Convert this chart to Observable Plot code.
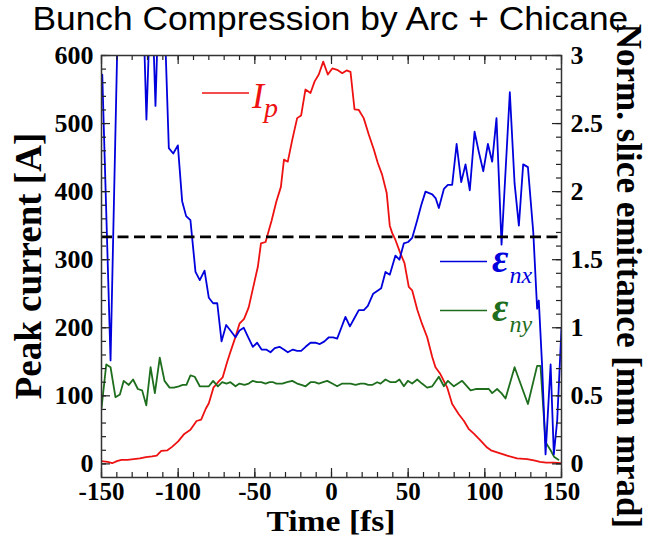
<!DOCTYPE html>
<html><head><meta charset="utf-8">
<script src="https://cdn.jsdelivr.net/npm/d3@7"></script>
<script src="https://cdn.jsdelivr.net/npm/@observablehq/plot@0.6"></script>
<style>
body{margin:0;background:#fff;}
#title{height:40px;width:655px;text-align:center;font-family:"Liberation Sans",Arial,sans-serif;font-size:33px;line-height:37px;overflow:visible;white-space:nowrap;}
#title span{display:inline-block;transform:translateX(3px) scaleX(1.07);transform-origin:center;}
#chart svg{display:block;overflow:visible;}
</style></head><body>
<div id="title"><span>Bunch Compression by Arc + Chicane</span></div>
<div id="chart"></div>
<script>
// ---- data ----
const ipTime = [-150,-146,-143,-140,-137,-133,-129,-125,-121,-117,-114,-111,-107,-104,-100,-96,-92,-88,-85,-82,-80,-77,-74,-71,-68,-66,-63,-60,-57,-54,-51,-48,-46,-43,-39,-36,-33,-31,-28.5,-25.6,-22.4,-19.8,-17,-13.7,-11,-8.3,-5.4,-2.4,0.5,3.7,7,9.8,12.4,15,17.8,21,24.3,27.6,30.2,33,36,38,39.6,41.7,45,47.6,50.4,52.6,56,59,62.4,65.7,67.8,71,75.5,78.7,83,86.4,89.6,93,96.5,101.5,104,108,114.6,121,127.6,132,136,140,145,150];
const ipValue = [4,3,1,4,6,6,7,8,10,11,12,19,20,25,33,44,50,63,65,81,89,112,120,127,150,164,184,206,213,230,260,290,324,326,358,385,407,447,444,476,508,512,550,545,562,572,591,572,581,579,574,578,576,521,520,508,484,462,442,425,398,350,339,329,309,295,260,255,226,206,186,157,142,132,112,88,73,63,51,44,36,24,20,17,12,8,7,5,3,2,2,1];

const enxTime = [-149.5,-144.1,-138.7,-134,-129,-124,-122.4,-120.7,-117.5,-114.8,-112.5,-110,-108.5,-106.1,-103.2,-100.2,-97.4,-94.8,-92,-88.7,-85.9,-82.8,-80,-77.2,-74.5,-71.7,-68.7,-65.9,-62.6,-60,-57.2,-54.3,-51.3,-48.5,-45.6,-42.6,-39.8,-37,-33.9,-31.1,-28.5,-25.2,-22.4,-19.8,-16.9,-13.7,-10.6,-7.6,-4.6,-1.7,1,3.7,6.4,9.1,12,14.9,17.8,21.1,23.7,27.2,29.8,32.4,35.2,38,41.7,44.3,47.2,50,52.6,55.9,58.5,61.3,65.7,68,70,73.3,75.9,78.7,81.6,84.6,87.4,90.2,93.3,96.1,99,102,104.8,107.6,110.9,116.3,119.4,122.2,125,128.1,131.6,134.1,135.2,137.4,139.6,142.9,145,147.2,150];
const enxValue = [2.86,0.76,3.6,3.8,3.5,3.7,3.2,2.53,3.6,2.63,3.5,3.6,3.15,2.32,2.28,2.34,1.93,1.82,1.79,1.41,1.35,1.42,1.22,1.18,1.18,0.90,1.02,0.98,0.93,0.98,1.0,0.93,0.86,0.89,0.84,0.84,0.82,0.85,0.86,0.84,0.82,0.84,0.83,0.83,0.86,0.89,0.89,0.88,0.90,0.93,0.93,0.92,1.0,1.08,1.01,1.07,1.13,1.13,1.16,1.25,1.27,1.29,1.41,1.39,1.53,1.50,1.62,1.63,1.66,1.79,1.9,2.0,1.98,1.95,1.88,2.02,2.05,2.05,2.35,2.07,2.20,2.01,2.44,2.29,2.15,2.35,2.22,2.54,1.61,2.73,2.06,1.75,2.20,2.18,1.7,1.14,1.20,0.71,0.07,0.73,0.07,0.32,1.0];

const enyTime = [-150,-146.9,-144.1,-140.9,-138,-135.5,-132.2,-129.4,-126.3,-123.5,-120.8,-118,-115.2,-112,-108.9,-105.6,-102.8,-99.6,-97,-94.6,-92,-89.2,-85.9,-82.8,-80,-77.2,-74.1,-71.3,-68.5,-65.9,-62.6,-60,-56.7,-54,-51.3,-48.5,-45.8,-43,-40.4,-38,-36,-32.1,-29,-25.6,-22.4,-19.6,-16.9,-13.7,-11,-8.3,-5.5,-2.8,0.5,3.7,7,9.7,12.4,15.7,18.9,21.5,24,26.5,29.8,32,35.2,38.5,41.7,44.3,47.2,49.8,52.6,55.9,59,62.4,65.7,70,73.3,75.9,79.8,82.5,85.2,90.7,94,97.2,100,102.6,104.8,108,110.8,113.5,119.4,128.1,134.1,136.3,139.6,142.9,145.3,148];
const enyValue = [0.41,0.73,0.71,0.49,0.51,0.61,0.58,0.62,0.55,0.54,0.43,0.71,0.52,0.78,0.61,0.56,0.56,0.57,0.58,0.58,0.65,0.64,0.57,0.57,0.57,0.61,0.57,0.60,0.59,0.60,0.57,0.59,0.58,0.59,0.61,0.60,0.60,0.59,0.60,0.60,0.59,0.59,0.60,0.61,0.59,0.58,0.57,0.60,0.60,0.59,0.60,0.61,0.59,0.57,0.59,0.59,0.59,0.58,0.59,0.59,0.58,0.58,0.60,0.59,0.62,0.60,0.60,0.62,0.57,0.61,0.59,0.62,0.59,0.56,0.57,0.64,0.57,0.61,0.57,0.59,0.61,0.54,0.55,0.55,0.55,0.55,0.52,0.55,0.52,0.48,0.71,0.44,0.72,0.72,0.16,0.10,0.05,0.03];

const dashLevel = 1.667; // mm mrad (right axis)

const xTickValues = [-150,-100,-50,0,50,100,150];
const xTickLabels = ["-150","-100","-50","0","50","100","150"];
const yLeftTickValues = [0,100,200,300,400,500,600];
const yLeftTickLabels = ["0","100","200","300","400","500","600"];
const yRightTickValues = [0,0.5,1,1.5,2,2.5,3];
const yRightTickLabels = ["0","0.5","1","1.5","2","2.5","3"];
const xMinorStep = 10, yMinorStep = 20;

const legendLabels = {ip: ["I","p"], enx: ["ε","nx"], eny: ["ε","ny"]};
const axisTitles = {x: "Time [fs]", left: "Peak current [A]", right: "Norm. slice emittance [mm mrad]"};

// ---- build ----
const RATIO = 200; // 3 mm mrad <-> 600 A
const ip = ipTime.map((t,i)=>({t, v: ipValue[i]}));
const enx = enxTime.map((t,i)=>({t, v: enxValue[i]*RATIO}));
const eny = enyTime.map((t,i)=>({t, v: enyValue[i]*RATIO}));

const W = 655, H = 498;
const mL = 101, mR = 94, mT = 15, mB = 61;
const innerH = H - mT - mB, innerW = W - mL - mR;
const xMinor = d3.range(-150, 150.001, xMinorStep);
const yMinor = d3.range(0, 600.001, yMinorStep);
const major = 9, minor = 5;
const tickStroke = "#222";
const serif = "'Liberation Serif','Times New Roman',serif";

const chart = Plot.plot({
  width: W, height: H,
  marginLeft: mL, marginRight: mR, marginTop: mT, marginBottom: mB,
  style: {fontFamily: serif, fontSize: "26px", fontWeight: "bold", color: "black", background: "white", overflow: "visible"},
  x: {domain: [-150, 150]},
  y: {domain: [-20, 600]},
  marks: [
    Plot.line(ip, {x: "t", y: "v", stroke: "#ee1111", strokeWidth: 1.8, clip: true}),
    Plot.line(eny, {x: "t", y: "v", stroke: "#1e6e1e", strokeWidth: 1.8, clip: true}),
    Plot.line(enx, {x: "t", y: "v", stroke: "#0000dd", strokeWidth: 1.8, clip: true}),
    Plot.ruleY([dashLevel*RATIO], {stroke: "black", strokeWidth: 2.8, strokeDasharray: "11,5.5"}),
    // minor ticks
    Plot.tickX(xMinor, {x: d=>d, insetTop: innerH-minor, stroke: tickStroke, strokeWidth: 1.2}),
    Plot.tickX(xMinor, {x: d=>d, insetBottom: innerH-minor, stroke: tickStroke, strokeWidth: 1.2}),
    Plot.tickY(yMinor, {y: d=>d, insetRight: innerW-minor, stroke: tickStroke, strokeWidth: 1.2}),
    Plot.tickY(yMinor, {y: d=>d, insetLeft: innerW-minor, stroke: tickStroke, strokeWidth: 1.2}),
    // major ticks
    Plot.tickX(xTickValues, {x: d=>d, insetTop: innerH-major, stroke: tickStroke, strokeWidth: 1.2}),
    Plot.tickX(xTickValues, {x: d=>d, insetBottom: innerH-major, stroke: tickStroke, strokeWidth: 1.2}),
    Plot.tickY(yLeftTickValues, {y: d=>d, insetRight: innerW-major, stroke: tickStroke, strokeWidth: 1.2}),
    Plot.tickY(yRightTickValues.map(d=>d*RATIO), {y: d=>d, insetLeft: innerW-major, stroke: tickStroke, strokeWidth: 1.2}),
    Plot.frame({stroke: "#333", strokeWidth: 1.5}),
    Plot.axisX({ticks: xTickValues, tickSize: 0, tickPadding: 4.6, fontSize: 25, tickFormat: d=>xTickLabels[xTickValues.indexOf(d)], label: null}),
    Plot.axisY({anchor: "left", ticks: yLeftTickValues, tickSize: 0, tickPadding: 8, tickFormat: d=>yLeftTickLabels[yLeftTickValues.indexOf(d)], label: null}),
    Plot.axisY({anchor: "right", ticks: yRightTickValues.map(d=>d*RATIO), tickSize: 0, tickPadding: 9, tickFormat: d=>yRightTickLabels[yRightTickValues.indexOf(d/RATIO)], label: null})
  ]
});
document.getElementById("chart").appendChild(chart);

const svg = d3.select(chart);
// axis titles
function title(transform, txt, size){
  svg.append("text").attr("transform", transform).attr("text-anchor","middle")
    .style("font-family", serif).style("font-size", size+"px").style("font-weight","bold").attr("fill","black").text(txt);
}
title("translate(41,226) rotate(-90)", axisTitles.left, 37);
title("translate(617,236) rotate(90)", axisTitles.right, 35);
title("translate(331,491.4) scale(1.12,1)", axisTitles.x, 30);

// legend
function legend(x1, x2, y, color, lab, tx, tyMain, tySub, mainSize, subSize, weight, subDx){
  svg.append("line").attr("x1",x1).attr("x2",x2).attr("y1",y).attr("y2",y).attr("stroke",color).attr("stroke-width",1.7);
  const t = svg.append("text").attr("x",tx).attr("y",tyMain).attr("fill",color).attr("text-anchor","start")
    .style("font-family",serif).style("font-style","italic");
  t.append("tspan").style("font-size",mainSize+"px").style("font-weight",weight).text(lab[0]);
  t.append("tspan").attr("dx",subDx).attr("dy",tySub-tyMain).style("font-size",subSize+"px").style("font-weight","normal").text(lab[1]);
}
legend(202, 249, 53, "#ee1111", legendLabels.ip, 252, 68, 77, 36, 28, "normal", 0);
legend(440, 487, 221.5, "#0000dd", legendLabels.enx, 492, 232, 243, 40, 24, "bold", 1);
legend(440, 487, 270.5, "#1e6e1e", legendLabels.eny, 492, 281, 292, 40, 24, "bold", 1);
</script>
</body></html>
